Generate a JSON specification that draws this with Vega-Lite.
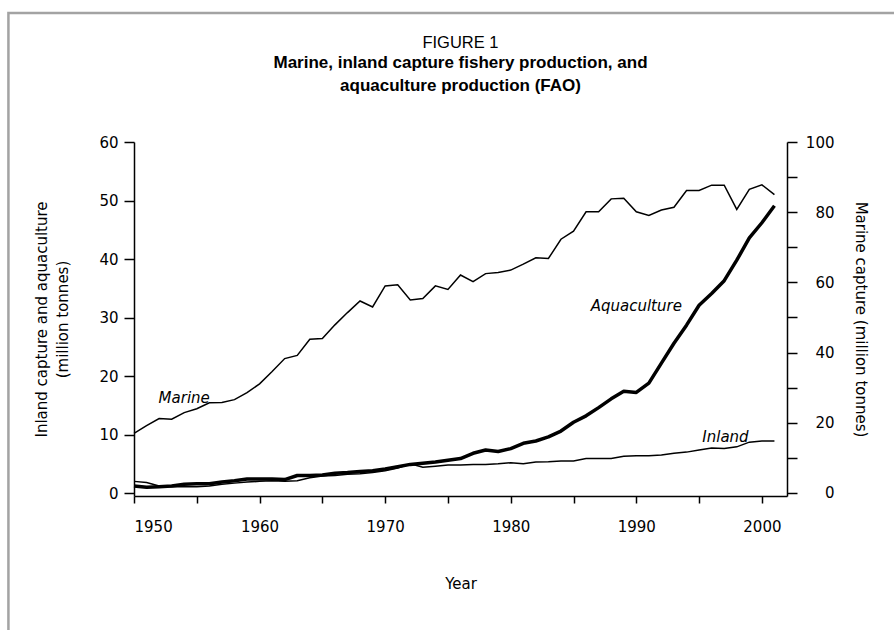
{
  "$schema": "https://vega.github.io/schema/vega-lite/v6.json",
  "autosize": "none",
  "width": 653,
  "height": 354,
  "padding": {"left": 134, "top": 142, "right": 107, "bottom": 134},
  "background": "white",
  "config": {
    "view": {"stroke": null},
    "font": "Liberation Sans",
    "axis": {
      "domainColor": "black", "tickColor": "black", "domainWidth": 1.5, "tickWidth": 1.5,
      "labelColor": "black", "titleColor": "black", "labelFont": "DejaVu Sans", "titleFont": "DejaVu Sans",
      "labelFontSize": 15, "titleFontSize": 15, "titleFontWeight": "normal", "grid": false
    }
  },
  "title": {
    "text": "FIGURE 1",
    "subtitle": ["Marine,  inland capture fishery production, and", "aquaculture production (FAO)"],
    "anchor": "middle",
    "font": "Liberation Sans",
    "fontSize": 16.5,
    "fontWeight": "normal",
    "color": "black",
    "subtitleFont": "Liberation Sans",
    "subtitleFontSize": 17,
    "subtitleFontWeight": "bold",
    "subtitleColor": "black",
    "subtitleLineHeight": 23,
    "subtitlePadding": 3,
    "offset": -82
  },
  "datasets": {
    "catch": [
      {"year": 1950, "series": "Marine", "value": 17.0},
      {"year": 1951, "series": "Marine", "value": 19.2},
      {"year": 1952, "series": "Marine", "value": 21.2},
      {"year": 1953, "series": "Marine", "value": 21.0},
      {"year": 1954, "series": "Marine", "value": 22.9},
      {"year": 1955, "series": "Marine", "value": 24.0},
      {"year": 1956, "series": "Marine", "value": 25.7},
      {"year": 1957, "series": "Marine", "value": 25.8},
      {"year": 1958, "series": "Marine", "value": 26.6},
      {"year": 1959, "series": "Marine", "value": 28.6},
      {"year": 1960, "series": "Marine", "value": 31.1},
      {"year": 1961, "series": "Marine", "value": 34.6},
      {"year": 1962, "series": "Marine", "value": 38.3},
      {"year": 1963, "series": "Marine", "value": 39.2},
      {"year": 1964, "series": "Marine", "value": 43.8},
      {"year": 1965, "series": "Marine", "value": 44.0},
      {"year": 1966, "series": "Marine", "value": 47.9},
      {"year": 1967, "series": "Marine", "value": 51.4},
      {"year": 1968, "series": "Marine", "value": 54.7},
      {"year": 1969, "series": "Marine", "value": 53.0},
      {"year": 1970, "series": "Marine", "value": 59.0},
      {"year": 1971, "series": "Marine", "value": 59.3},
      {"year": 1972, "series": "Marine", "value": 55.0},
      {"year": 1973, "series": "Marine", "value": 55.4},
      {"year": 1974, "series": "Marine", "value": 59.0},
      {"year": 1975, "series": "Marine", "value": 58.0},
      {"year": 1976, "series": "Marine", "value": 62.1},
      {"year": 1977, "series": "Marine", "value": 60.2},
      {"year": 1978, "series": "Marine", "value": 62.5},
      {"year": 1979, "series": "Marine", "value": 62.8},
      {"year": 1980, "series": "Marine", "value": 63.5},
      {"year": 1981, "series": "Marine", "value": 65.2},
      {"year": 1982, "series": "Marine", "value": 67.0},
      {"year": 1983, "series": "Marine", "value": 66.8},
      {"year": 1984, "series": "Marine", "value": 72.3},
      {"year": 1985, "series": "Marine", "value": 74.6},
      {"year": 1986, "series": "Marine", "value": 80.1},
      {"year": 1987, "series": "Marine", "value": 80.1},
      {"year": 1988, "series": "Marine", "value": 83.8},
      {"year": 1989, "series": "Marine", "value": 84.0},
      {"year": 1990, "series": "Marine", "value": 80.1},
      {"year": 1991, "series": "Marine", "value": 79.1},
      {"year": 1992, "series": "Marine", "value": 80.6},
      {"year": 1993, "series": "Marine", "value": 81.4},
      {"year": 1994, "series": "Marine", "value": 86.2},
      {"year": 1995, "series": "Marine", "value": 86.2},
      {"year": 1996, "series": "Marine", "value": 87.7},
      {"year": 1997, "series": "Marine", "value": 87.7},
      {"year": 1998, "series": "Marine", "value": 80.8},
      {"year": 1999, "series": "Marine", "value": 86.5},
      {"year": 2000, "series": "Marine", "value": 87.8},
      {"year": 2001, "series": "Marine", "value": 85.0},
      {"year": 1950, "series": "Aquaculture", "value": 1.2},
      {"year": 1951, "series": "Aquaculture", "value": 1.0},
      {"year": 1952, "series": "Aquaculture", "value": 1.1},
      {"year": 1953, "series": "Aquaculture", "value": 1.2},
      {"year": 1954, "series": "Aquaculture", "value": 1.5},
      {"year": 1955, "series": "Aquaculture", "value": 1.6},
      {"year": 1956, "series": "Aquaculture", "value": 1.6},
      {"year": 1957, "series": "Aquaculture", "value": 1.9},
      {"year": 1958, "series": "Aquaculture", "value": 2.1},
      {"year": 1959, "series": "Aquaculture", "value": 2.4},
      {"year": 1960, "series": "Aquaculture", "value": 2.4},
      {"year": 1961, "series": "Aquaculture", "value": 2.4},
      {"year": 1962, "series": "Aquaculture", "value": 2.3},
      {"year": 1963, "series": "Aquaculture", "value": 3.0},
      {"year": 1964, "series": "Aquaculture", "value": 3.0},
      {"year": 1965, "series": "Aquaculture", "value": 3.1},
      {"year": 1966, "series": "Aquaculture", "value": 3.4},
      {"year": 1967, "series": "Aquaculture", "value": 3.5},
      {"year": 1968, "series": "Aquaculture", "value": 3.7},
      {"year": 1969, "series": "Aquaculture", "value": 3.8},
      {"year": 1970, "series": "Aquaculture", "value": 4.1},
      {"year": 1971, "series": "Aquaculture", "value": 4.5},
      {"year": 1972, "series": "Aquaculture", "value": 4.9},
      {"year": 1973, "series": "Aquaculture", "value": 5.1},
      {"year": 1974, "series": "Aquaculture", "value": 5.3},
      {"year": 1975, "series": "Aquaculture", "value": 5.6},
      {"year": 1976, "series": "Aquaculture", "value": 5.9},
      {"year": 1977, "series": "Aquaculture", "value": 6.8},
      {"year": 1978, "series": "Aquaculture", "value": 7.35},
      {"year": 1979, "series": "Aquaculture", "value": 7.1},
      {"year": 1980, "series": "Aquaculture", "value": 7.6},
      {"year": 1981, "series": "Aquaculture", "value": 8.5},
      {"year": 1982, "series": "Aquaculture", "value": 8.9},
      {"year": 1983, "series": "Aquaculture", "value": 9.6},
      {"year": 1984, "series": "Aquaculture", "value": 10.6},
      {"year": 1985, "series": "Aquaculture", "value": 12.1},
      {"year": 1986, "series": "Aquaculture", "value": 13.2},
      {"year": 1987, "series": "Aquaculture", "value": 14.6},
      {"year": 1988, "series": "Aquaculture", "value": 16.1},
      {"year": 1989, "series": "Aquaculture", "value": 17.4},
      {"year": 1990, "series": "Aquaculture", "value": 17.2},
      {"year": 1991, "series": "Aquaculture", "value": 18.8},
      {"year": 1992, "series": "Aquaculture", "value": 22.2},
      {"year": 1993, "series": "Aquaculture", "value": 25.6},
      {"year": 1994, "series": "Aquaculture", "value": 28.7},
      {"year": 1995, "series": "Aquaculture", "value": 32.1},
      {"year": 1996, "series": "Aquaculture", "value": 34.1},
      {"year": 1997, "series": "Aquaculture", "value": 36.3},
      {"year": 1998, "series": "Aquaculture", "value": 39.8},
      {"year": 1999, "series": "Aquaculture", "value": 43.6},
      {"year": 2000, "series": "Aquaculture", "value": 46.2},
      {"year": 2001, "series": "Aquaculture", "value": 49.1},
      {"year": 1950, "series": "Inland", "value": 2.0},
      {"year": 1951, "series": "Inland", "value": 1.8},
      {"year": 1952, "series": "Inland", "value": 1.2},
      {"year": 1953, "series": "Inland", "value": 1.1},
      {"year": 1954, "series": "Inland", "value": 1.1},
      {"year": 1955, "series": "Inland", "value": 1.1},
      {"year": 1956, "series": "Inland", "value": 1.2},
      {"year": 1957, "series": "Inland", "value": 1.5},
      {"year": 1958, "series": "Inland", "value": 1.7},
      {"year": 1959, "series": "Inland", "value": 1.9},
      {"year": 1960, "series": "Inland", "value": 2.0},
      {"year": 1961, "series": "Inland", "value": 2.1},
      {"year": 1962, "series": "Inland", "value": 2.0},
      {"year": 1963, "series": "Inland", "value": 2.1},
      {"year": 1964, "series": "Inland", "value": 2.6},
      {"year": 1965, "series": "Inland", "value": 2.9},
      {"year": 1966, "series": "Inland", "value": 3.0},
      {"year": 1967, "series": "Inland", "value": 3.2},
      {"year": 1968, "series": "Inland", "value": 3.3},
      {"year": 1969, "series": "Inland", "value": 3.5},
      {"year": 1970, "series": "Inland", "value": 3.8},
      {"year": 1971, "series": "Inland", "value": 4.3},
      {"year": 1972, "series": "Inland", "value": 5.0},
      {"year": 1973, "series": "Inland", "value": 4.4},
      {"year": 1974, "series": "Inland", "value": 4.6},
      {"year": 1975, "series": "Inland", "value": 4.8},
      {"year": 1976, "series": "Inland", "value": 4.8},
      {"year": 1977, "series": "Inland", "value": 4.9},
      {"year": 1978, "series": "Inland", "value": 4.9},
      {"year": 1979, "series": "Inland", "value": 5.0},
      {"year": 1980, "series": "Inland", "value": 5.2},
      {"year": 1981, "series": "Inland", "value": 5.0},
      {"year": 1982, "series": "Inland", "value": 5.3},
      {"year": 1983, "series": "Inland", "value": 5.35},
      {"year": 1984, "series": "Inland", "value": 5.5},
      {"year": 1985, "series": "Inland", "value": 5.5},
      {"year": 1986, "series": "Inland", "value": 5.9},
      {"year": 1987, "series": "Inland", "value": 5.9},
      {"year": 1988, "series": "Inland", "value": 5.9},
      {"year": 1989, "series": "Inland", "value": 6.3},
      {"year": 1990, "series": "Inland", "value": 6.4},
      {"year": 1991, "series": "Inland", "value": 6.4},
      {"year": 1992, "series": "Inland", "value": 6.5},
      {"year": 1993, "series": "Inland", "value": 6.8},
      {"year": 1994, "series": "Inland", "value": 7.0},
      {"year": 1995, "series": "Inland", "value": 7.35},
      {"year": 1996, "series": "Inland", "value": 7.7},
      {"year": 1997, "series": "Inland", "value": 7.6},
      {"year": 1998, "series": "Inland", "value": 7.9},
      {"year": 1999, "series": "Inland", "value": 8.7},
      {"year": 2000, "series": "Inland", "value": 8.9},
      {"year": 2001, "series": "Inland", "value": 8.9}
    ],
    "labels": [
      {"label": "Marine", "year": 1954.0, "value": 16.2},
      {"label": "Aquaculture", "year": 1990.0, "value": 32.0},
      {"label": "Inland", "year": 1997.1, "value": 9.6}
    ]
  },
  "layer": [
    {
      "layer": [
        {
          "data": {"name": "catch"},
          "transform": [{"filter": "datum.series === 'Inland'"}],
          "mark": {"type": "line", "color": "black", "strokeWidth": 1.5},
          "encoding": {
            "x": {"field": "year", "type": "quantitative", "scale": {"domain": [1950, 2002], "nice": false, "zero": false},
              "axis": {"values": [1950, 1955, 1960, 1965, 1970, 1975, 1980, 1985, 1990, 1995, 2000], "format": "d",
                "labelExpr": "datum.value % 10 === 0 ? datum.label : ''", "tickSize": 7, "labelPadding": 16,
                "title": "Year", "titlePadding": 42}},
            "y": {"field": "value", "type": "quantitative", "scale": {"domain": [-0.5, 60], "nice": false, "zero": false},
              "axis": {"values": [0, 10, 20, 30, 40, 50, 60], "tickSize": 10, "labelPadding": 6,
                "title": ["Inland capture and aquaculture", "(million tonnes)"], "titleLineHeight": 21, "titlePadding": 28}}
          }
        },
        {
          "data": {"name": "catch"},
          "transform": [{"filter": "datum.series === 'Aquaculture'"}],
          "mark": {"type": "line", "color": "black", "strokeWidth": 3.5, "strokeJoin": "round"},
          "encoding": {
            "x": {"field": "year", "type": "quantitative"},
            "y": {"field": "value", "type": "quantitative"}
          }
        },
        {
          "data": {"name": "labels"},
          "mark": {"type": "text", "font": "DejaVu Sans", "fontSize": 15, "fontStyle": "italic", "color": "black", "align": "center", "baseline": "middle"},
          "encoding": {
            "x": {"field": "year", "type": "quantitative"},
            "y": {"field": "value", "type": "quantitative"},
            "text": {"field": "label"}
          }
        },
        {
          "data": {"values": [{}]},
          "mark": {"type": "rect", "fill": null, "stroke": "#a3a3a3", "strokeWidth": 2.5, "clip": false},
          "encoding": {
            "x": {"datum": 1940, "type": "quantitative"},
            "x2": {"datum": 2060},
            "y": {"datum": 82.05, "type": "quantitative"},
            "y2": {"datum": -40}
          }
        }
      ]
    },
    {
      "data": {"name": "catch"},
      "transform": [{"filter": "datum.series === 'Marine'"}],
      "mark": {"type": "line", "color": "black", "strokeWidth": 1.5},
      "encoding": {
        "x": {"field": "year", "type": "quantitative"},
        "y": {"field": "value", "type": "quantitative", "scale": {"domain": [-0.86, 100], "nice": false, "zero": false},
          "axis": {"orient": "right", "values": [0, 10, 20, 30, 40, 50, 60, 70, 80, 90, 100],
            "labelExpr": "datum.value % 20 === 0 ? datum.label : ''", "tickSize": 10, "labelAlign": "right", "labelPadding": 37,
            "title": "Marine capture (million tonnes)", "titlePadding": 18}}
      }
    }
  ],
  "resolve": {"scale": {"y": "independent"}}
}
